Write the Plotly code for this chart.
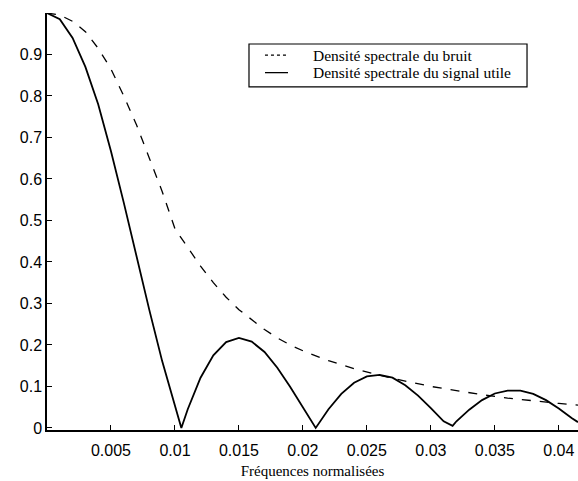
import plotly.graph_objects as go

# normalised frequencies
freq_noise = [0, 0.001, 0.002, 0.003, 0.004, 0.005, 0.006, 0.007, 0.008, 0.009,
              0.010, 0.011, 0.012, 0.013, 0.014, 0.015, 0.016, 0.017, 0.018, 0.019,
              0.020, 0.022, 0.024, 0.026, 0.028, 0.030, 0.032, 0.034, 0.036, 0.038,
              0.040, 0.0415]
noise = [1.0, 0.995, 0.98, 0.955, 0.915, 0.865, 0.80, 0.73, 0.65, 0.57,
         0.48, 0.435, 0.39, 0.35, 0.315, 0.285, 0.26, 0.237, 0.217, 0.2,
         0.186, 0.162, 0.143, 0.127, 0.113, 0.10, 0.09, 0.08, 0.072, 0.065,
         0.059, 0.055]

freq_signal = [0, 0.001, 0.002, 0.003, 0.004, 0.005, 0.006, 0.007, 0.008, 0.009,
               0.010, 0.0105, 0.011, 0.012, 0.013, 0.014, 0.015, 0.016, 0.017, 0.018,
               0.019, 0.020, 0.021, 0.022, 0.023, 0.024, 0.025, 0.026, 0.027, 0.028,
               0.029, 0.030, 0.031, 0.0317, 0.032, 0.033, 0.034, 0.035, 0.036, 0.037,
               0.038, 0.039, 0.040, 0.041, 0.0415]
signal = [1.0, 0.985, 0.94, 0.87, 0.78, 0.667, 0.543, 0.413, 0.284, 0.161,
          0.05, 0.0, 0.045, 0.121, 0.175, 0.207, 0.217, 0.208, 0.183, 0.145,
          0.099, 0.049, 0.0, 0.045, 0.082, 0.109, 0.124, 0.128, 0.121, 0.103,
          0.078, 0.048, 0.016, 0.005, 0.016, 0.044, 0.067, 0.083, 0.090, 0.090,
          0.082, 0.067, 0.047, 0.024, 0.014]

series_names = ["Densité spectrale du bruit", "Densité spectrale du signal utile"]

x_ticks = [0.005, 0.01, 0.015, 0.02, 0.025, 0.03, 0.035, 0.04]
x_ticklabels = ["0.005", "0.01", "0.015", "0.02", "0.025", "0.03", "0.035", "0.04"]
y_ticks = [0, 0.1, 0.2, 0.3, 0.4, 0.5, 0.6, 0.7, 0.8, 0.9]
y_ticklabels = ["0", "0.1", "0.2", "0.3", "0.4", "0.5", "0.6", "0.7", "0.8", "0.9"]

fig = go.Figure()
fig.add_trace(go.Scatter(x=freq_noise, y=noise, mode="lines", name=series_names[0],
                         line=dict(color="black", width=1.3, dash="dash")))
fig.add_trace(go.Scatter(x=freq_signal, y=signal, mode="lines", name=series_names[1],
                         line=dict(color="black", width=1.8)))

axis_common = dict(showgrid=False, zeroline=False, showline=True, linecolor="black",
                   linewidth=1.5, ticks="inside", ticklen=5, tickcolor="black",
                   automargin=False,
                   tickfont=dict(family="Liberation Sans, Arial", size=16, color="black"))

fig.update_xaxes(range=[0, 0.0415], tickvals=x_ticks, ticktext=x_ticklabels,
                 ticklabelstandoff=5,
                 title=dict(text="Fréquences normalisées", standoff=8,
                            font=dict(family="Liberation Serif, Times New Roman", size=15, color="black")),
                 **axis_common)
fig.update_yaxes(range=[-0.005, 1.0], tickvals=y_ticks, ticktext=y_ticklabels, **axis_common)

# hand-made legend box, like the matlab one in the scan
legend_font = dict(family="Liberation Serif, Times New Roman", size=15.5, color="black")
fig.add_shape(type="rect", xref="paper", yref="paper", x0=0.3804, x1=0.904, y0=0.823, y1=0.9257,
              line=dict(color="black", width=1.2), fillcolor="white", layer="above")
rows_y = [0.899, 0.857]
dashes = ["dot", "solid"]
for name, ry, d in zip(series_names, rows_y, dashes):
    fig.add_shape(type="line", xref="paper", yref="paper", x0=0.4105, x1=0.4539, y0=ry, y1=ry,
                  line=dict(color="black", width=1.3, dash=d), layer="above")
    fig.add_annotation(text=name, xref="paper", yref="paper", x=0.4972, y=ry,
                       xanchor="left", yanchor="middle", showarrow=False, font=legend_font)

fig.update_layout(
    width=578, height=481,
    margin=dict(l=47, r=0, t=13, b=51),
    plot_bgcolor="white", paper_bgcolor="white",
    showlegend=False,
)

# the page body has a default 8px margin; drop it so the figure fills the window
fig.write_html("out.html", config={"displayModeBar": False},
               post_script="document.body.style.margin='0';")
